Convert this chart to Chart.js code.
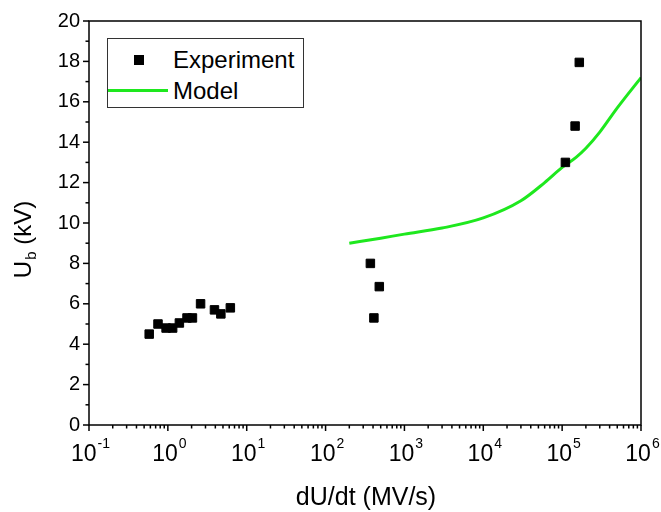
<!DOCTYPE html>
<html>
<head>
<meta charset="utf-8">
<script src="https://cdn.jsdelivr.net/npm/chart.js@4.4.0/dist/chart.umd.min.js"></script>
<style>
  html, body { margin: 0; padding: 0; background: #fff; }
  #wrap { position: relative; width: 661px; height: 512px; }
  #legend {
    position: absolute; left: 107px; top: 38px; width: 197px; height: 70px;
    border: 1px solid #333; box-sizing: border-box; background: #fff;
    font-family: "Liberation Sans", Arial, sans-serif; font-size: 24px; color: #000;
  }
  #legend .row { position: absolute; left: 0; height: 28px; line-height: 28px; }
  #legend .sq { position: absolute; left: 26px; top: 9px; width: 10px; height: 10px; background: #000; }
  #legend .ln { position: absolute; left: 0; top: 12px; width: 60px; height: 3px; background: #1ee81e; }
  #legend .txt { position: absolute; left: 65px; top: 0; white-space: nowrap; }
</style>
</head>
<body>
<div id="wrap">
  <canvas id="grafik" width="661" height="512"></canvas>
  <div id="legend">
    <div class="row" style="top:7px"><span class="sq"></span><span class="txt">Experiment</span></div>
    <div class="row" style="top:38px"><span class="ln"></span><span class="txt">Model</span></div>
  </div>
</div>
<script>
// Experiment points (dU/dt in MV/s, Ub in kV)
const expX = [0.58, 0.75, 0.95, 1.15, 1.4, 1.75, 2.05, 2.6, 3.9, 4.7, 6.2, 370, 410, 480, 110000, 146000, 165000];
const expY = [4.5, 5.0, 4.8, 4.8, 5.05, 5.3, 5.3, 6.0, 5.7, 5.5, 5.8, 8.0, 5.3, 6.85, 13.0, 14.8, 17.95];

// Model curve
const modelX = [200, 500, 1000, 3000, 10000, 30000, 60000, 100000, 150000, 200000, 300000, 500000, 1000000];
const modelY = [9.0, 9.25, 9.45, 9.75, 10.25, 11.1, 12.0, 12.75, 13.25, 13.7, 14.5, 15.7, 17.2];

const xExponents = [-1, 0, 1, 2, 3, 4, 5, 6];
const yLabels = [0, 2, 4, 6, 8, 10, 12, 14, 16, 18, 20];

const fontName = '"Liberation Sans", Arial, sans-serif';

const eksenler = {
    id: 'eksenler',
    afterDraw(chart) {
        const ctx = chart.ctx;
        const a = chart.chartArea;
        const x = chart.scales.x, y = chart.scales.y;
        ctx.save();
        ctx.strokeStyle = '#000';
        ctx.lineWidth = 1.5;
        ctx.strokeRect(a.left, a.top, a.right - a.left, a.bottom - a.top);

        // y ticks, major on labels, minor between
        for (let v = 0; v <= 20; v++) {
            const py = y.getPixelForValue(v);
            const len = yLabels.includes(v) ? 6 : 3.5;
            ctx.beginPath();
            ctx.moveTo(a.left - len, py);
            ctx.lineTo(a.left, py);
            ctx.stroke();
        }
        // x ticks, decades and 2..9
        xExponents.forEach(e => {
            for (let m = 1; m <= 9; m++) {
                if (e === 6 && m > 1) break;
                const px = x.getPixelForValue(m * Math.pow(10, e));
                const len = m === 1 ? 6 : 3.5;
                ctx.beginPath();
                ctx.moveTo(px, a.bottom);
                ctx.lineTo(px, a.bottom + len);
                ctx.stroke();
            }
        });

        // x labels 10^n
        ctx.fillStyle = '#000';
        ctx.textBaseline = 'alphabetic';
        ctx.textAlign = 'left';
        xExponents.forEach(e => {
            const px = x.getPixelForValue(Math.pow(10, e));
            ctx.font = '23px ' + fontName;
            const w1 = ctx.measureText('10').width;
            ctx.font = '14px ' + fontName;
            const ex = String(e);
            const w2 = ctx.measureText(ex).width;
            const start = px - (w1 + w2) / 2 + 1;
            ctx.font = '23px ' + fontName;
            ctx.fillText('10', start, a.bottom + 36);
            ctx.font = '14px ' + fontName;
            ctx.fillText(ex, start + w1 + 1, a.bottom + 23);
        });

        // x title
        ctx.font = '25px ' + fontName;
        ctx.textAlign = 'center';
        ctx.fillText('dU/dt (MV/s)', (a.left + a.right) / 2 + 1, a.bottom + 80);

        // y title with subscript
        ctx.translate(31, 240);
        ctx.rotate(-Math.PI / 2);
        ctx.font = '24px ' + fontName;
        const p1 = 'U', p2 = 'b', p3 = ' (kV)';
        const wu = ctx.measureText(p1).width;
        const wr = ctx.measureText(p3).width;
        ctx.font = '15px ' + fontName;
        const wb = ctx.measureText(p2).width;
        const sx = -(wu + wb + wr) / 2;
        ctx.textAlign = 'left';
        ctx.font = '24px ' + fontName;
        ctx.fillText(p1, sx, 0);
        ctx.font = '15px ' + fontName;
        ctx.fillText(p2, sx + wu + 1, 5);
        ctx.font = '24px ' + fontName;
        ctx.fillText(p3, sx + wu + wb + 1, 0);
        ctx.restore();
    }
};

const config = {
    type: 'scatter',
    data: {
        datasets: [{
            label: 'Experiment',
            data: expX.map((v, i) => ({x: v, y: expY[i]})),
            pointStyle: 'rect',
            pointRadius: 6,
            pointHoverRadius: 6,
            backgroundColor: '#000',
            borderColor: '#000',
            borderWidth: 1,
            order: 1
        }, {
            label: 'Model',
            data: modelX.map((v, i) => ({x: v, y: modelY[i]})),
            showLine: true,
            pointRadius: 0,
            borderColor: '#1ee81e',
            borderWidth: 3,
            cubicInterpolationMode: 'monotone',
            order: 2
        }]
    },
    options: {
        responsive: false,
        animation: false,
        layout: { padding: { top: 18, right: 20, left: 0, bottom: 0 } },
        plugins: { legend: { display: false }, tooltip: { enabled: false } },
        scales: {
            x: {
                type: 'logarithmic',
                min: 0.1,
                max: 1000000,
                grid: { display: false, drawTicks: false },
                border: { display: false },
                ticks: { display: false },
                afterFit: s => { s.height = 87; }
            },
            y: {
                min: 0,
                max: 20,
                grid: { display: false, drawTicks: false },
                border: { display: false },
                ticks: {
                    stepSize: 1,
                    autoSkip: false,
                    padding: 9,
                    color: '#000',
                    font: { family: fontName, size: 20 },
                    callback: v => yLabels.includes(v) ? String(v) : ''
                },
                afterFit: s => { s.width = 89; }
            }
        }
    },
    plugins: [eksenler]
};

const grafik = new Chart(document.getElementById('grafik').getContext('2d'), config);
</script>
</body>
</html>
